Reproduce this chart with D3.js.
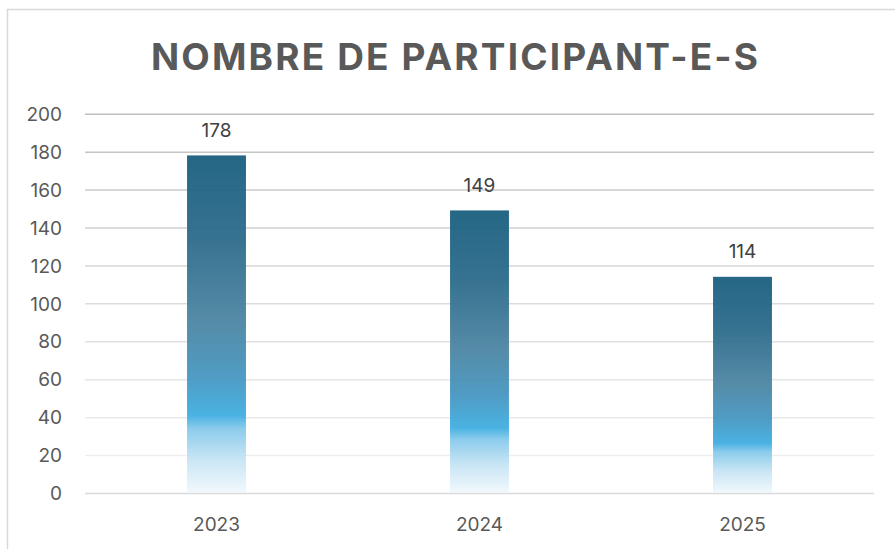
<!DOCTYPE html>
<html>
<head>
<meta charset="utf-8">
<script src="https://cdn.jsdelivr.net/npm/d3@7"></script>
<style>
  html, body { margin: 0; padding: 0; background: #fff; }
  svg { display: block; }
</style>
</head>
<body>
<svg id="chart" width="895" height="549"></svg>
<script>
const categories = ["2023", "2024", "2025"];
const values = [178, 149, 114];
const yTicks = [0, 20, 40, 60, 80, 100, 120, 140, 160, 180, 200];
const title = "NOMBRE DE PARTICIPANT-E-S";

const W = 895, H = 549;
const svg = d3.select("#chart");
const FONT = "Inter, 'Open Sans', sans-serif";

// frame
svg.append("rect").attr("x", 7.5).attr("y", 9.5).attr("width", 900).attr("height", 560)
  .attr("fill", "#fff").attr("stroke", "#d9d9d9").attr("stroke-width", 1.5);

const x = d3.scaleBand().domain(categories).range([85, 874]).paddingInner(0.776).paddingOuter(0.388);
const y = d3.scaleLinear().domain([0, 200]).range([493, 113.7]);

const defs = svg.append("defs");
const grad = defs.append("linearGradient").attr("id", "barGrad")
  .attr("x1", 0).attr("y1", 0).attr("x2", 0).attr("y2", 1);
[[0, "#1a5e7f"], [0.25, "#2c6b8b"], [0.49, "#4c85a2"], [0.65, "#4696c0"], [0.77, "#40aee1"],
 [0.81, "#86c9eb"], [0.9, "#c6e4f4"], [1, "#f1f8fc"]]
  .forEach(([o, c]) => grad.append("stop").attr("offset", o).attr("stop-color", c));

const gridGrad = defs.append("linearGradient").attr("id", "gridGrad")
  .attr("gradientUnits", "userSpaceOnUse").attr("x1", 0).attr("y1", y(200)).attr("x2", 0).attr("y2", y(0));
[[0, "#bfbfbf"], [0.5, "#dedede"], [1, "#f2f2f2"]]
  .forEach(([o, c]) => gridGrad.append("stop").attr("offset", o).attr("stop-color", c));

// title
const t = svg.append("text").attr("x", 151).attr("y", 70)
  .attr("font-family", FONT).attr("font-weight", 700).attr("font-size", 37)
  .attr("fill", "#595959").text(title);
const target = 607;
const n = title.length;
const len = t.node().getComputedTextLength();
const ls = (target - len) / (n - 1);
t.attr("letter-spacing", ls);

// grid (axis-driven)
const yAxis = d3.axisLeft(y).tickValues(yTicks).tickSize(-(874 - 85)).tickFormat(d3.format("d")).tickPadding(23);
const gy = svg.append("g").attr("transform", "translate(85,0)").call(yAxis);
gy.select(".domain").remove();
gy.selectAll(".tick line").attr("stroke", d => d === 0 ? "#d9d9d9" : "url(#gridGrad)")
  .attr("stroke-width", 1.5);
// horizontal line gradient on stroke needs userSpace; vertical gradient on zero-height lines -> use explicit colors
gy.selectAll(".tick line").attr("stroke", d => {
  if (d === 0) return "#d9d9d9";
  const c = d3.interpolateRgb("#f0f0f0", "#bfbfbf")(Math.pow(d / 200, 1.3));
  return c;
});
gy.selectAll(".tick text").attr("font-family", FONT).attr("font-size", 19)
  .attr("fill", "#595959").attr("dy", "0.35em");

// bars
svg.append("g").selectAll("rect").data(values).join("rect")
  .attr("x", (d, i) => x(categories[i]))
  .attr("y", d => y(d))
  .attr("width", x.bandwidth())
  .attr("height", d => y(0) - y(d))
  .attr("fill", "url(#barGrad)")
  .attr("fill-opacity", 0.95);

// data labels
svg.append("g").selectAll("text").data(values).join("text")
  .attr("x", (d, i) => x(categories[i]) + x.bandwidth() / 2)
  .attr("y", d => y(d) - 18.5)
  .attr("text-anchor", "middle")
  .attr("font-family", FONT).attr("font-size", 19).attr("fill", "#404040")
  .text(d => d);

// x axis labels
const xAxis = d3.axisBottom(x).tickSize(0).tickPadding(25);
const gx = svg.append("g").attr("transform", `translate(0,${y(0)})`).call(xAxis);
gx.select(".domain").remove();
gx.selectAll(".tick text").attr("font-family", FONT).attr("font-size", 19).attr("fill", "#595959");
</script>
</body>
</html>
